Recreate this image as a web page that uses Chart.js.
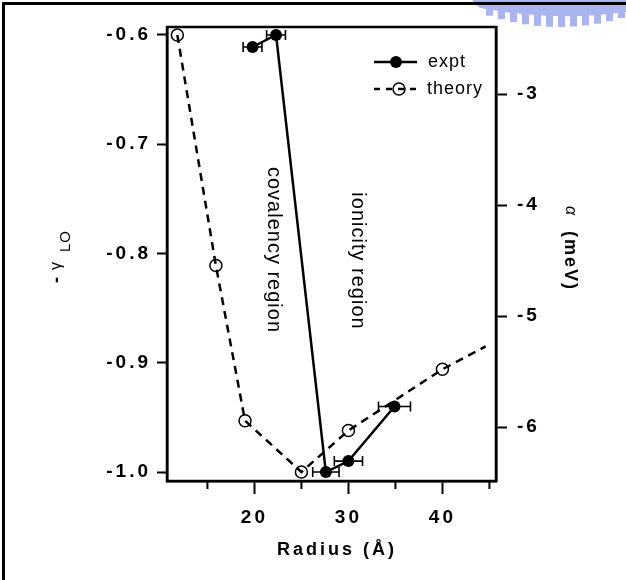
<!DOCTYPE html>
<html>
<head>
<meta charset="utf-8">
<script src="https://cdn.jsdelivr.net/npm/chart.js@4.4.0/dist/chart.umd.min.js"></script>
<style>
  html, body { margin: 0; padding: 0; background: #fff; }
  #wrap { width: 626px; height: 580px; position: relative; }
</style>
</head>
<body>
<div id="wrap"><canvas id="chart"></canvas></div>
<script>
// values
const radiusTheory = [11.8, 15.9, 19.0, 25.0, 30.0, 40.0, 44.6];
const gammaTheory = [-0.600, -0.811, -0.953, -1.000, -0.962, -0.906, -0.885];
const radiusExpt = [19.8, 22.3, 27.6, 30.0, 34.9];
const gammaExpt = [-0.611, -0.600, -1.000, -0.990, -0.940];
const radiusErr = [1.0, 1.0, 1.4, 1.5, 1.7];

const xTicks = [15, 20, 25, 30, 35, 40, 45];
const gammaTicks = [-1.0, -0.9, -0.8, -0.7, -0.6];
const alphaTicks = [-6, -5, -4, -3];

const FONT = "'Liberation Sans', Arial, Helvetica, sans-serif";

const decor = {
  id: "decor",
  beforeDraw(chart) {
    const ctx = chart.ctx;
    ctx.letterSpacing = "3px";
    // faint watermark at the top right corner
    ctx.save();
    ctx.fillStyle = "#aab4ee";
    ctx.beginPath();
    ctx.moveTo(472, 0);
    ctx.lineTo(626, 0);
    ctx.lineTo(626, 12);
    ctx.quadraticCurveTo(555, 22, 480, 8);
    ctx.closePath();
    ctx.fill();
    for (let x = 486; x < 626; x += 12) {
      const t = (x - 556) / 72;
      const yb = 27 - 12 * t * t;
      ctx.fillRect(x, 6, 7, yb - 6);
    }
    ctx.restore();
  },
  afterDatasetsDraw(chart) {
    const ctx = chart.ctx;
    const xs = chart.scales.x;
    const ys = chart.scales.y;
    const a = chart.chartArea;

    // error bars on the expt points
    ctx.save();
    ctx.strokeStyle = "#000";
    ctx.lineWidth = 1.6;
    radiusExpt.forEach((r, i) => {
      const y = ys.getPixelForValue(gammaExpt[i]);
      const x1 = xs.getPixelForValue(r - radiusErr[i]);
      const x2 = xs.getPixelForValue(r + radiusErr[i]);
      ctx.beginPath();
      ctx.moveTo(x1, y); ctx.lineTo(x2, y);
      ctx.moveTo(x1, y - 5); ctx.lineTo(x1, y + 5);
      ctx.moveTo(x2, y - 5); ctx.lineTo(x2, y + 5);
      ctx.stroke();
    });
    ctx.restore();

    // plot box
    ctx.save();
    ctx.strokeStyle = "#000";
    ctx.lineWidth = 2.5;
    ctx.strokeRect(a.left, a.top, a.right - a.left, a.bottom - a.top);
    // minor ticks on x
    ctx.lineWidth = 2;
    xTicks.filter(v => v % 10 !== 0).forEach(v => {
      const x = xs.getPixelForValue(v);
      ctx.beginPath();
      ctx.moveTo(x, a.bottom); ctx.lineTo(x, a.bottom + 8);
      ctx.stroke();
    });
    ctx.restore();

    // outer frame (left and top only)
    ctx.save();
    ctx.fillStyle = "#000";
    ctx.fillRect(2, 2, 3, 578);
    ctx.fillRect(2, 2, 624, 3);
    ctx.restore();

    // legend
    ctx.save();
    ctx.strokeStyle = "#000";
    ctx.fillStyle = "#000";
    ctx.lineWidth = 2.5;
    ctx.beginPath();
    ctx.moveTo(374, 62); ctx.lineTo(417, 62);
    ctx.stroke();
    ctx.beginPath();
    ctx.arc(396, 62, 6, 0, Math.PI * 2);
    ctx.fill();
    ctx.setLineDash([6, 6]);
    ctx.beginPath();
    ctx.moveTo(374, 89); ctx.lineTo(420, 89);
    ctx.stroke();
    ctx.setLineDash([]);
    ctx.lineWidth = 1.5;
    ctx.beginPath();
    ctx.arc(399, 89, 6, 0, Math.PI * 2);
    ctx.stroke();
    ctx.letterSpacing = "1px";
    ctx.font = "18px " + FONT;
    ctx.textBaseline = "middle";
    ctx.textAlign = "left";
    ctx.fillText("expt", 428, 62);
    ctx.fillText("theory", 427, 89);
    ctx.restore();

    // region labels, rotated to read top to bottom
    ctx.save();
    ctx.fillStyle = "#000";
    ctx.letterSpacing = "1px";
    ctx.font = "20px " + FONT;
    ctx.textAlign = "center";
    ctx.textBaseline = "middle";
    ctx.translate(274, 250);
    ctx.rotate(Math.PI / 2);
    ctx.fillText("covalency region", 0, 0);
    ctx.restore();
    ctx.save();
    ctx.fillStyle = "#000";
    ctx.letterSpacing = "1px";
    ctx.font = "20px " + FONT;
    ctx.textAlign = "center";
    ctx.textBaseline = "middle";
    ctx.translate(358, 261);
    ctx.rotate(Math.PI / 2);
    ctx.fillText("ionicity region", 0, 0);
    ctx.restore();

    // left title: - gamma_LO
    ctx.save();
    ctx.fillStyle = "#000";
    ctx.textBaseline = "middle";
    ctx.textAlign = "left";
    ctx.letterSpacing = "0px";
    ctx.translate(57, 283);
    ctx.rotate(-Math.PI / 2);
    ctx.font = "bold 18px " + FONT;
    ctx.fillText("-", 0, 0);
    ctx.font = "16px " + FONT;
    ctx.fillText("\u03b3", 13, 0);
    ctx.font = "15px " + FONT;
    ctx.letterSpacing = "1px";
    ctx.fillText("LO", 31, 9);
    ctx.restore();

    // right title: alpha (meV)
    ctx.save();
    ctx.fillStyle = "#000";
    ctx.textBaseline = "middle";
    ctx.textAlign = "left";
    ctx.translate(570, 206);
    ctx.rotate(Math.PI / 2);
    ctx.letterSpacing = "0px";
    ctx.font = "italic 16px " + FONT;
    ctx.fillText("\u03b1", 0, 0);
    ctx.letterSpacing = "2px";
    ctx.font = "bold 18px " + FONT;
    ctx.fillText("(meV)", 25, 0);
    ctx.restore();

    // bottom title
    ctx.save();
    ctx.fillStyle = "#000";
    ctx.textBaseline = "middle";
    ctx.textAlign = "center";
    ctx.letterSpacing = "3px";
    ctx.font = "bold 18px " + FONT;
    ctx.fillText("Radius (\u00c5)", 337, 550);
    ctx.restore();
  }
};

new Chart(document.getElementById("chart"), {
  type: "scatter",
  data: {
    datasets: [
      {
        label: "theory",
        data: radiusTheory.map((r, i) => ({ x: r, y: gammaTheory[i] })),
        showLine: true,
        borderColor: "#000",
        borderWidth: 2.5,
        borderDash: [8, 6],
        pointRadius: [6, 6, 6, 6, 6, 6, 0],
        pointBorderWidth: 1.5,
        pointBorderColor: "#000",
        pointBackgroundColor: "rgba(0,0,0,0)",
        yAxisID: "y"
      },
      {
        label: "expt",
        data: radiusExpt.map((r, i) => ({ x: r, y: gammaExpt[i] })),
        showLine: true,
        borderColor: "#000",
        borderWidth: 2.5,
        pointRadius: 6,
        pointBorderWidth: 0,
        pointBackgroundColor: "#000",
        yAxisID: "y"
      }
    ]
  },
  options: {
    responsive: true,
    maintainAspectRatio: false,
    animation: false,
    layout: { padding: { top: 27, left: 0, right: 0, bottom: 0 } },
    plugins: {
      legend: { display: false },
      tooltip: { enabled: false }
    },
    scales: {
      x: {
        type: "linear",
        position: "bottom",
        min: 10.7,
        max: 45.7,
        afterBuildTicks: s => { s.ticks = xTicks.map(v => ({ value: v })); },
        afterFit: s => { s.height = 99; },
        grid: {
          drawOnChartArea: false,
          tickLength: 13,
          tickWidth: 2,
          tickColor: c => (c.tick && c.tick.value % 10 === 0 ? "#000" : "rgba(0,0,0,0)")
        },
        border: { color: "#000", width: 2.5 },
        ticks: {
          color: "#000",
          padding: 12,
          maxRotation: 0,
          font: { family: FONT, size: 19, weight: "bold" },
          callback: v => (v % 10 === 0 ? String(v) : "")
        }
      },
      y: {
        type: "linear",
        position: "left",
        min: -1.0082,
        max: -0.5927,
        afterBuildTicks: s => { s.ticks = gammaTicks.map(v => ({ value: v })); },
        afterFit: s => { s.width = 167; },
        grid: { drawOnChartArea: false, tickLength: 10, tickWidth: 2, tickColor: "#000" },
        border: { color: "#000", width: 2.5 },
        ticks: {
          color: "#000",
          padding: 6,
          font: { family: FONT, size: 19, weight: "bold" },
          callback: v => v.toFixed(1)
        }
      },
      y2: {
        type: "linear",
        position: "right",
        min: -6.486,
        max: -2.396,
        afterBuildTicks: s => { s.ticks = alphaTicks.map(v => ({ value: v })); },
        afterFit: s => { s.width = 130; },
        grid: { drawOnChartArea: false, tickLength: 11, tickWidth: 2, tickColor: "#000" },
        border: { color: "#000", width: 2.5 },
        ticks: {
          color: "#000",
          padding: 10,
          font: { family: FONT, size: 19, weight: "bold" },
          callback: v => String(v)
        }
      }
    }
  },
  plugins: [decor]
});
</script>
</body>
</html>
